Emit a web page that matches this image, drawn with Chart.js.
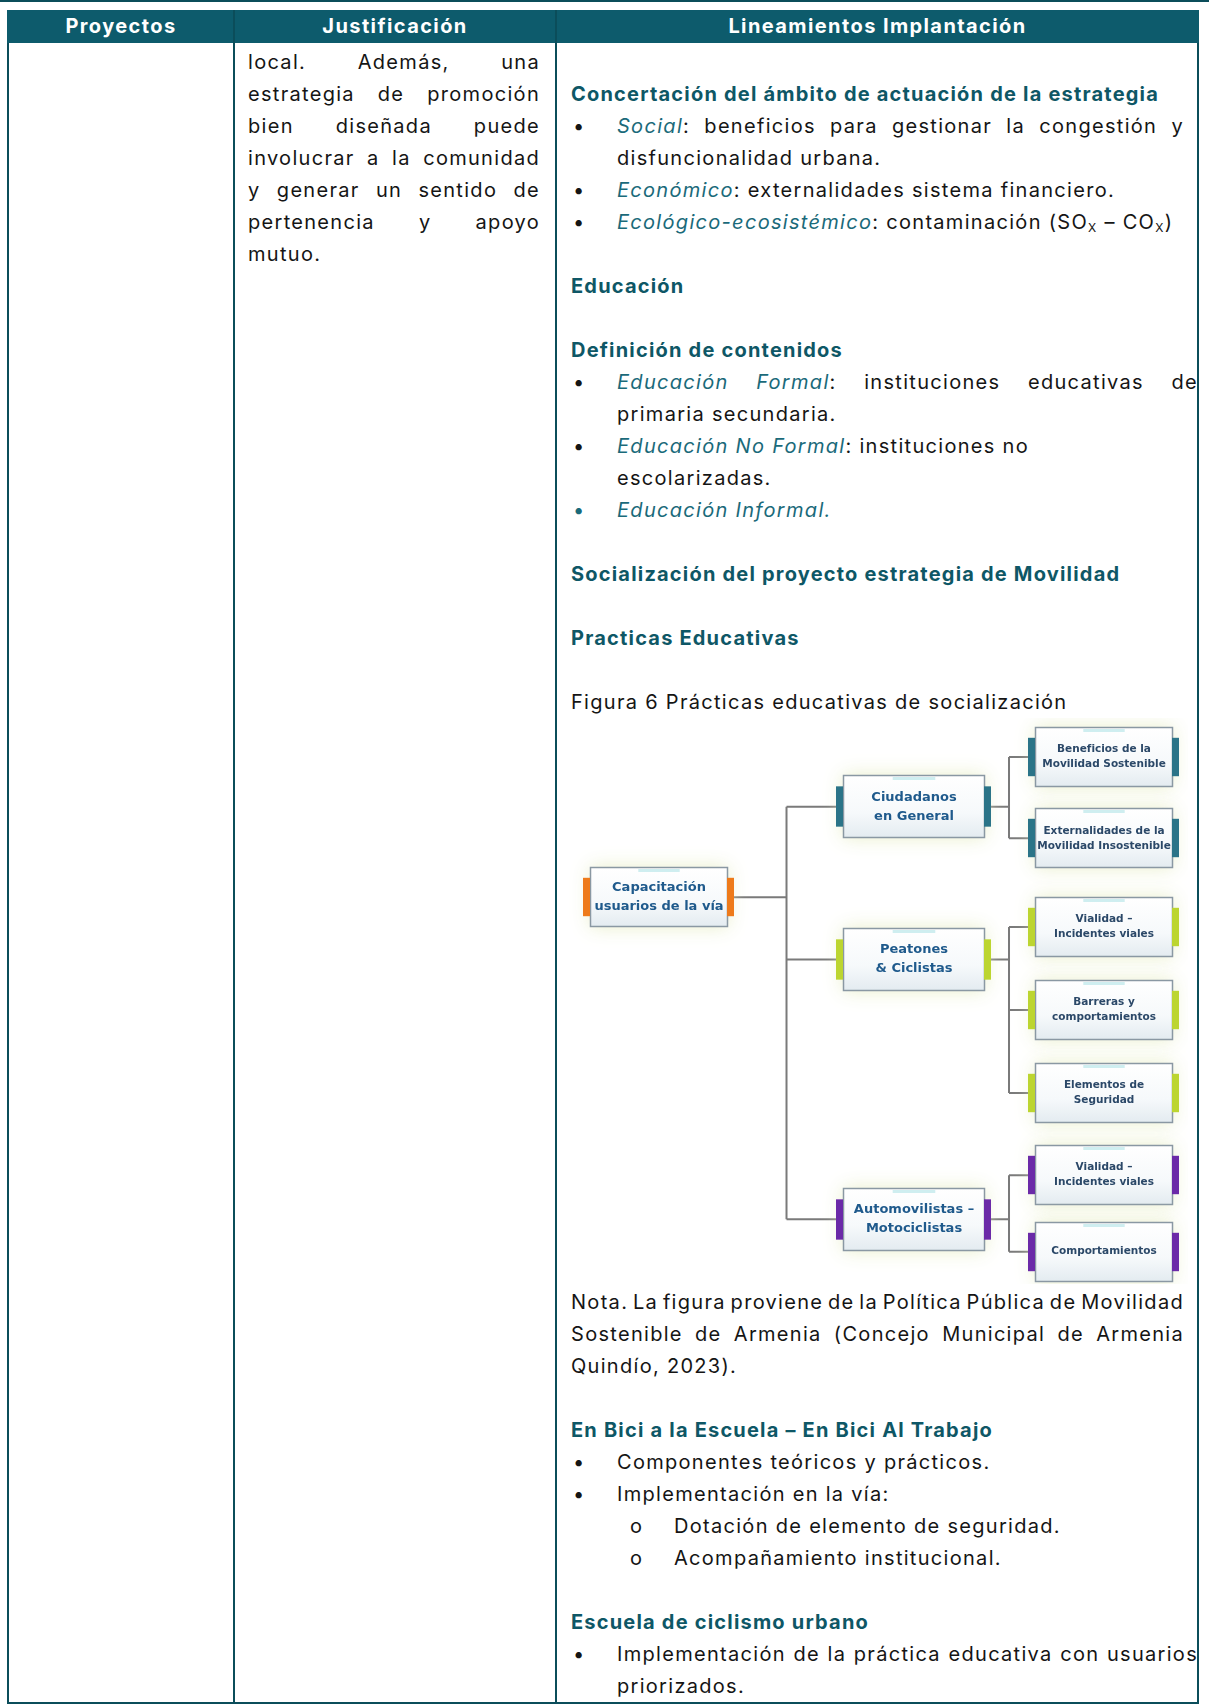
<!DOCTYPE html>
<html lang="es">
<head>
<meta charset="utf-8">
<title>Prácticas educativas de socialización</title>
<script src="https://cdn.jsdelivr.net/npm/chart.js@4.4.1/dist/chart.umd.min.js"></script>
<style>
  body { margin:0; background:#fff; width:1209px; height:1705px; position:relative; overflow:hidden;
         font-family: Inter, "Open Sans", sans-serif; color:#151515; }
  .topline { position:absolute; left:0; top:0; width:1209px; height:2px; background:#0b4d5a; }
  .tbl { position:absolute; left:7px; top:10px; width:1188px; height:1690px; border:2px solid #0b4d5a; }
  .head { position:absolute; left:7px; top:10px; width:1192px; height:33px; background:#0d5b6c; }
  .vline { position:absolute; top:10px; width:2px; height:1694px; background:#0b4d5a; }
  .hcell { position:absolute; top:10px; height:33px; line-height:33px; text-align:center; color:#fff;
           font-weight:700; font-size:20px; letter-spacing:1.4px; }
  .ln { position:absolute; height:32px; line-height:32px; white-space:nowrap; font-size:20px; letter-spacing:1.3px; }
  .h { color:#0e5766; font-weight:700; letter-spacing:1.2px; }
  .it { color:#1a6a7a; font-style:italic; }
  .sub { font-size:12px; vertical-align:-3px; }
  #fig { position:absolute; left:568px; top:718px; }
</style>
</head>
<body>
<div class="topline"></div>
<div class="tbl"></div>
<div class="head"></div>
<div class="vline" style="left:233px"></div>
<div class="vline" style="left:555px"></div>
<div class="hcell" style="left:9px;width:224px">Proyectos</div>
<div class="hcell" style="left:235px;width:320px">Justificación</div>
<div class="hcell" style="left:557px;width:641px">Lineamientos Implantación</div>

<!-- Justificación -->
<div class="ln j" data-w="292" style="left:248px;top:46px">local. Además, una</div>
<div class="ln j" data-w="292" style="left:248px;top:78px">estrategia de promoción</div>
<div class="ln j" data-w="292" style="left:248px;top:110px">bien diseñada puede</div>
<div class="ln j" data-w="292" style="left:248px;top:142px">involucrar a la comunidad</div>
<div class="ln j" data-w="292" style="left:248px;top:174px">y generar un sentido de</div>
<div class="ln j" data-w="292" style="left:248px;top:206px">pertenencia y apoyo</div>
<div class="ln" style="left:248px;top:238px">mutuo.</div>

<!-- Lineamientos -->
<div class="ln h" style="left:571px;top:78px">Concertación del ámbito de actuación de la estrategia</div>
<div class="ln" style="left:573px;top:110px">•</div>
<div class="ln j" data-w="567" style="left:617px;top:110px"><span class="it">Social</span>: beneficios para gestionar la congestión y</div>
<div class="ln" style="left:617px;top:142px">disfuncionalidad urbana.</div>
<div class="ln" style="left:573px;top:174px">•</div>
<div class="ln" style="left:617px;top:174px"><span class="it">Económico</span>: externalidades sistema financiero.</div>
<div class="ln" style="left:573px;top:206px">•</div>
<div class="ln" style="left:617px;top:206px"><span class="it">Ecológico-ecosistémico</span>: contaminación (SO<span class="sub">X</span> – CO<span class="sub">X</span>)</div>

<div class="ln h" style="left:571px;top:270px">Educación</div>
<div class="ln h" style="left:571px;top:334px">Definición de contenidos</div>
<div class="ln" style="left:573px;top:366px">•</div>
<div class="ln j" data-w="581" style="left:617px;top:366px"><span class="it">Educación Formal</span>: instituciones educativas de</div>
<div class="ln" style="left:617px;top:398px">primaria secundaria.</div>
<div class="ln" style="left:573px;top:430px">•</div>
<div class="ln" style="left:617px;top:430px"><span class="it">Educación No Formal</span>: instituciones no</div>
<div class="ln" style="left:617px;top:462px">escolarizadas.</div>
<div class="ln" style="left:573px;top:494px;color:#1a6a7a">•</div>
<div class="ln it" style="left:617px;top:494px">Educación Informal.</div>

<div class="ln h" style="left:571px;top:558px">Socialización del proyecto estrategia de Movilidad</div>
<div class="ln h" style="left:571px;top:622px">Practicas Educativas</div>
<div class="ln" style="left:571px;top:686px">Figura 6 Prácticas educativas de socialización</div>

<canvas id="fig" width="620" height="566"></canvas>

<div class="ln j" data-w="613" style="left:571px;top:1286px">Nota. La figura proviene de la Política Pública de Movilidad</div>
<div class="ln j" data-w="613" style="left:571px;top:1318px">Sostenible de Armenia (Concejo Municipal de Armenia</div>
<div class="ln" style="left:571px;top:1350px">Quindío, 2023).</div>

<div class="ln h" style="left:571px;top:1414px">En Bici a la Escuela – En Bici Al Trabajo</div>
<div class="ln" style="left:573px;top:1446px">•</div>
<div class="ln" style="left:617px;top:1446px">Componentes teóricos y prácticos.</div>
<div class="ln" style="left:573px;top:1478px">•</div>
<div class="ln" style="left:617px;top:1478px">Implementación en la vía:</div>
<div class="ln" style="left:630px;top:1510px">o</div>
<div class="ln" style="left:674px;top:1510px">Dotación de elemento de seguridad.</div>
<div class="ln" style="left:630px;top:1542px">o</div>
<div class="ln" style="left:674px;top:1542px">Acompañamiento institucional.</div>

<div class="ln h" style="left:571px;top:1606px">Escuela de ciclismo urbano</div>
<div class="ln" style="left:573px;top:1638px">•</div>
<div class="ln j" data-w="581" style="left:617px;top:1638px">Implementación de la práctica educativa con usuarios</div>
<div class="ln" style="left:617px;top:1670px">priorizados.</div>

<script>
// justificado linea por linea (cada renglon del documento original)
function justifyLines() {
  document.querySelectorAll('.j').forEach(el => {
    if (!el.querySelector('.in')) el.innerHTML = '<span class="in">' + el.innerHTML + '</span>';
    el.style.wordSpacing = '0px';
    const inner = el.querySelector('.in');
    const natural = inner.getBoundingClientRect().width;
    const gaps = (inner.textContent.match(/ /g) || []).length;
    const target = parseFloat(el.dataset.w);
    if (gaps) el.style.wordSpacing = ((target - natural) / gaps) + 'px';
  });
}
justifyLines();
if (document.fonts) document.fonts.ready.then(justifyLines);

// nodos del diagrama (figura 6)
const nodeNames = [
  "Capacitación\nusuarios de la vía",
  "Ciudadanos\nen General",
  "Peatones\n& Ciclistas",
  "Automovilistas –\nMotociclistas",
  "Beneficios de la\nMovilidad Sostenible",
  "Externalidades de la\nMovilidad Insostenible",
  "Vialidad –\nIncidentes viales",
  "Barreras y\ncomportamientos",
  "Elementos de\nSeguridad",
  "Vialidad –\nIncidentes viales",
  "Comportamientos"
];
const nodeParent = [-1, 0, 0, 0, 1, 1, 2, 2, 2, 3, 3];
const nodeColumn = [0, 1.342, 1.342, 1.342, 2.342, 2.342, 2.342, 2.342, 2.342, 2.342, 2.342];
const nodeRow = [1.71, 0.62, 2.46, 5.59, 0.02, 1.0, 2.07, 3.07, 4.07, 5.06, 5.98];

function levelOf(i) {
  let l = 0;
  while (nodeParent[i] >= 0) { i = nodeParent[i]; l++; }
  return l;
}
function branchOf(i) {
  if (nodeParent[i] < 0) return 0;
  while (nodeParent[nodeParent[i]] >= 0) i = nodeParent[i];
  return i;
}

// conectores en angulo
const segs = [];
const parents = [...new Set(nodeParent.filter(p => p >= 0))];
parents.forEach(p => {
  const kids = nodeParent.map((q, i) => q === p ? i : -1).filter(i => i >= 0);
  const bus = (nodeColumn[p] + nodeColumn[kids[0]]) / 2;
  const rows = kids.map(k => nodeRow[k]).concat([nodeRow[p]]);
  segs.push([{x: nodeColumn[p], y: nodeRow[p]}, {x: bus, y: nodeRow[p]}]);
  segs.push([{x: bus, y: Math.min(...rows)}, {x: bus, y: Math.max(...rows)}]);
  kids.forEach(k => segs.push([{x: bus, y: nodeRow[k]}, {x: nodeColumn[k], y: nodeRow[k]}]));
});

const barColors = {0: '#ee7a1a', 1: '#2b7488', 2: '#bcd530', 3: '#6b2aa8'};
const boxW = [138, 142, 138];
const boxH = [60, 63, 60];

const boxPlugin = {
  id: 'treeBoxes',
  afterDatasetsDraw(chart) {
    const ctx = chart.ctx;
    const xs = chart.scales.x, ys = chart.scales.y;
    nodeNames.forEach((name, i) => {
      const lvl = levelOf(i);
      const w = boxW[lvl], h = boxH[lvl];
      const cx = xs.getPixelForValue(nodeColumn[i]);
      const cy = ys.getPixelForValue(nodeRow[i]);
      const l = Math.round(cx - w / 2), t = Math.round(cy - h / 2);
      ctx.save();
      // halo
      ctx.shadowColor = 'rgba(232,238,200,0.95)';
      ctx.shadowBlur = 18;
      ctx.fillStyle = '#ffffff';
      ctx.fillRect(l, t, w, h);
      ctx.restore();
      ctx.save();
      const g = ctx.createLinearGradient(0, t, 0, t + h);
      g.addColorStop(0, '#ffffff');
      g.addColorStop(0.6, '#f6f9fb');
      g.addColorStop(1, '#e3ebf0');
      ctx.fillStyle = g;
      ctx.fillRect(l, t, w, h);
      ctx.strokeStyle = '#8a98a3';
      ctx.lineWidth = 1.5;
      ctx.strokeRect(l + 0.5, t + 0.5, w - 1, h - 1);
      ctx.fillStyle = '#cfeef0';
      ctx.fillRect(l + 0.35 * w, t + 2, 0.3 * w, 3);
      // barras laterales
      ctx.fillStyle = barColors[branchOf(i)];
      const bt = t + 0.18 * h, bh = 0.64 * h;
      ctx.fillRect(l - 7, bt, 7, bh);
      ctx.fillRect(l + w - 1, bt, 7, bh);
      // texto
      ctx.filter = 'blur(0.4px)';
      ctx.fillStyle = lvl === 2 ? '#2b4868' : '#1f5a8c';
      const fs = lvl === 2 ? 10.5 : 13;
      const lh = lvl === 2 ? 15 : 19;
      ctx.font = 'bold ' + fs + 'px "DejaVu Sans", sans-serif';
      ctx.textAlign = 'center';
      ctx.textBaseline = 'middle';
      const lines = name.split('\n');
      lines.forEach((s, k) => {
        ctx.fillText(s, cx, cy + (k - (lines.length - 1) / 2) * lh);
      });
      ctx.restore();
    });
  }
};

new Chart(document.getElementById('fig'), {
  type: 'scatter',
  data: {
    datasets: segs.map(d => ({
      data: d,
      showLine: true,
      borderColor: '#7a7a7a',
      borderWidth: 2,
      pointRadius: 0,
      pointHoverRadius: 0
    }))
  },
  options: {
    responsive: false,
    animation: false,
    devicePixelRatio: 1,
    layout: {padding: 0},
    plugins: {legend: {display: false}, tooltip: {enabled: false}},
    scales: {
      x: {type: 'linear', min: -0.479, max: 2.784, display: false},
      y: {type: 'linear', min: -0.449, max: 6.370, reverse: true, display: false}
    }
  },
  plugins: [boxPlugin]
});
</script>
</body>
</html>
